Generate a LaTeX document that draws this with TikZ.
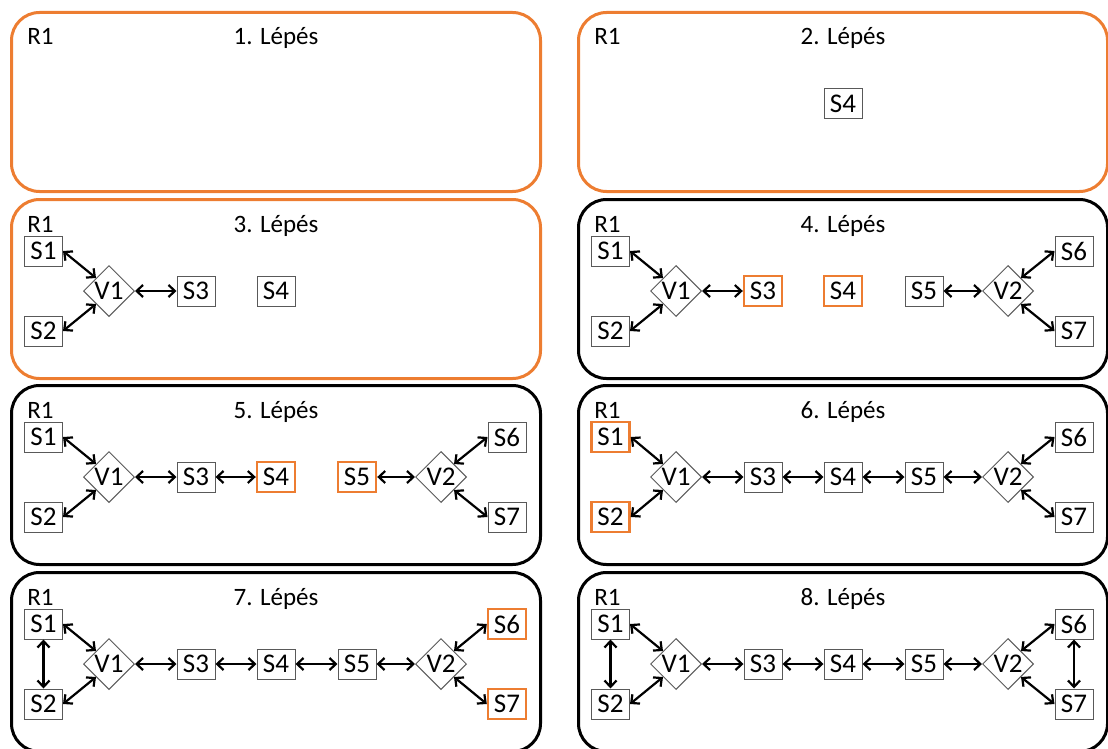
\documentclass[tikz,border=0pt]{standalone}
\usepackage{fontspec}
\setmainfont{Carlito}
\usetikzlibrary{shapes.geometric,arrows.meta}
\definecolor{steporange}{HTML}{ED7D31}
\definecolor{boxgray}{HTML}{595959}
\tikzset{
    every node/.style={font=\fontsize{12.5}{15}\selectfont, inner sep=0pt}
}
\tikzset{
    every edge/.append style={line width=1.1pt,
        >={Straight Barb[length=3.2pt,width=6pt]}, <->}
}
\tikzset{
    panel/.style={draw=black, line width=1.5pt, rounded corners=14pt},
    panelhl/.style={panel, draw=steporange},
    sbox/.style={rectangle, draw=boxgray, line width=0.5pt,
        minimum width=19pt, minimum height=15pt,
        font=\fontsize{13.5}{15}\selectfont},
    sboxhl/.style={sbox, draw=steporange, line width=1.2pt},
    vnode/.style={diamond, draw=boxgray, line width=0.5pt, minimum size=25.5pt,
        font=\fontsize{13.5}{15}\selectfont},
    steptitle/.style={anchor=base},
    rtag/.style={anchor=base west}
}

\begin{document}
\begin{tikzpicture}[x=0.5pt, y=-0.5pt]
  \useasboundingbox (0,0) rectangle (1108,749);

  \begin{scope}[shift={(10,11)}, name prefix=p1-]
    \draw [panelhl] (1.5,1.5) rectangle (530.5,180.5);
    \node (r) [rtag] at (17,34) {R1};
    \node (t) [steptitle] at (266,34) {1. Lépés};
  \end{scope}

  \begin{scope}[shift={(577,11)}, name prefix=p2-]
    \draw [panelhl] (1.5,1.5) rectangle (530.5,180.5);
    \node (r) [rtag] at (17,34) {R1};
    \node (t) [steptitle] at (266,34) {2. Lépés};
    \node (s4) [sbox] at (266,93) {S4};
  \end{scope}

  \begin{scope}[shift={(10,198)}, name prefix=p3-]
    \draw [panelhl] (1.5,1.5) rectangle (530.5,180.5);
    \node (r) [rtag] at (17,34) {R1};
    \node (t) [steptitle] at (266,34) {3. Lépés};
    \node (s1) [sbox] at (33.5,53) {S1};
    \node (s2) [sbox] at (33.5,133) {S2};
    \node (v1) [vnode] at (99,93) {V1};
    \node (s3) [sbox] at (186,93) {S3};
    \node (s4) [sbox] at (266,93) {S4};
    \draw (s1.east) edge (v1.north west); \draw (s2.east) edge (v1.south west);
    \draw (v1) edge (s3);
  \end{scope}

  \begin{scope}[shift={(577,198)}, name prefix=p4-]
    \draw [panel] (1.5,1.5) rectangle (530.5,180.5);
    \node (r) [rtag] at (17,34) {R1};
    \node (t) [steptitle] at (266,34) {4. Lépés};
    \node (s1) [sbox] at (33.5,53) {S1};
    \node (s2) [sbox] at (33.5,133) {S2};
    \node (v1) [vnode] at (99,93) {V1};
    \node (s3) [sboxhl] at (186,93) {S3};
    \node (s4) [sboxhl] at (266,93) {S4};
    \node (s5) [sbox] at (347,93) {S5};
    \node (v2) [vnode] at (431,93) {V2};
    \node (s6) [sbox] at (497,53) {S6};
    \node (s7) [sbox] at (497,133) {S7};
    \draw (s1.east) edge (v1.north west); \draw (s2.east) edge (v1.south west);
    \draw (v1) edge (s3);
    \draw (s5) edge (v2);
    \draw (v2.north east) edge (s6.west); \draw (v2.south east) edge (s7.west);
  \end{scope}

  \begin{scope}[shift={(10,384)}, name prefix=p5-]
    \draw [panel] (1.5,1.5) rectangle (530.5,180.5);
    \node (r) [rtag] at (17,34) {R1};
    \node (t) [steptitle] at (266,34) {5. Lépés};
    \node (s1) [sbox] at (33.5,53) {S1};
    \node (s2) [sbox] at (33.5,133) {S2};
    \node (v1) [vnode] at (99,93) {V1};
    \node (s3) [sbox] at (186,93) {S3};
    \node (s4) [sboxhl] at (266,93) {S4};
    \node (s5) [sboxhl] at (347,93) {S5};
    \node (v2) [vnode] at (431,93) {V2};
    \node (s6) [sbox] at (497,53) {S6};
    \node (s7) [sbox] at (497,133) {S7};
    \draw (s1.east) edge (v1.north west); \draw (s2.east) edge (v1.south west);
    \draw (v1) edge (s3); \draw (s3) edge (s4);
    \draw (s5) edge (v2);
    \draw (v2.north east) edge (s6.west); \draw (v2.south east) edge (s7.west);
  \end{scope}

  \begin{scope}[shift={(577,384)}, name prefix=p6-]
    \draw [panel] (1.5,1.5) rectangle (530.5,180.5);
    \node (r) [rtag] at (17,34) {R1};
    \node (t) [steptitle] at (266,34) {6. Lépés};
    \node (s1) [sboxhl] at (33.5,53) {S1};
    \node (s2) [sboxhl] at (33.5,133) {S2};
    \node (v1) [vnode] at (99,93) {V1};
    \node (s3) [sbox] at (186,93) {S3};
    \node (s4) [sbox] at (266,93) {S4};
    \node (s5) [sbox] at (347,93) {S5};
    \node (v2) [vnode] at (431,93) {V2};
    \node (s6) [sbox] at (497,53) {S6};
    \node (s7) [sbox] at (497,133) {S7};
    \draw (s1.east) edge (v1.north west); \draw (s2.east) edge (v1.south west);
    \draw (v1) edge (s3); \draw (s3) edge (s4);
    \draw (s4) edge (s5); \draw (s5) edge (v2);
    \draw (v2.north east) edge (s6.west); \draw (v2.south east) edge (s7.west);
  \end{scope}

  \begin{scope}[shift={(10,571)}, name prefix=p7-]
    \draw [panel] (1.5,1.5) rectangle (530.5,180.5);
    \node (r) [rtag] at (17,34) {R1};
    \node (t) [steptitle] at (266,34) {7. Lépés};
    \node (s1) [sbox] at (33.5,53) {S1};
    \node (s2) [sbox] at (33.5,133) {S2};
    \node (v1) [vnode] at (99,93) {V1};
    \node (s3) [sbox] at (186,93) {S3};
    \node (s4) [sbox] at (266,93) {S4};
    \node (s5) [sbox] at (347,93) {S5};
    \node (v2) [vnode] at (431,93) {V2};
    \node (s6) [sboxhl] at (497,53) {S6};
    \node (s7) [sboxhl] at (497,133) {S7};
    \draw (s1) edge (s2);
    \draw (s1.east) edge (v1.north west); \draw (s2.east) edge (v1.south west);
    \draw (v1) edge (s3); \draw (s3) edge (s4);
    \draw (s4) edge (s5); \draw (s5) edge (v2);
    \draw (v2.north east) edge (s6.west); \draw (v2.south east) edge (s7.west);
  \end{scope}

  \begin{scope}[shift={(577,571)}, name prefix=p8-]
    \draw [panel] (1.5,1.5) rectangle (530.5,180.5);
    \node (r) [rtag] at (17,34) {R1};
    \node (t) [steptitle] at (266,34) {8. Lépés};
    \node (s1) [sbox] at (33.5,53) {S1};
    \node (s2) [sbox] at (33.5,133) {S2};
    \node (v1) [vnode] at (99,93) {V1};
    \node (s3) [sbox] at (186,93) {S3};
    \node (s4) [sbox] at (266,93) {S4};
    \node (s5) [sbox] at (347,93) {S5};
    \node (v2) [vnode] at (431,93) {V2};
    \node (s6) [sbox] at (497,53) {S6};
    \node (s7) [sbox] at (497,133) {S7};
    \draw (s1) edge (s2); \draw (s6) edge (s7);
    \draw (s1.east) edge (v1.north west); \draw (s2.east) edge (v1.south west);
    \draw (v1) edge (s3); \draw (s3) edge (s4);
    \draw (s4) edge (s5); \draw (s5) edge (v2);
    \draw (v2.north east) edge (s6.west); \draw (v2.south east) edge (s7.west);
  \end{scope}
\end{tikzpicture}
\end{document}
